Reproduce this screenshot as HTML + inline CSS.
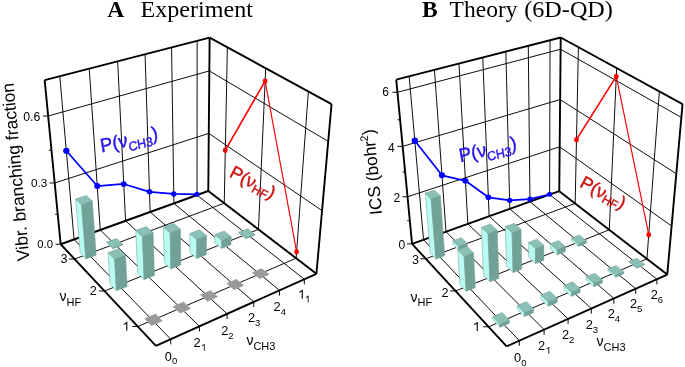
<!DOCTYPE html><html><head><meta charset="utf-8"><style>
html,body{margin:0;padding:0;background:#fff;width:685px;height:367px;overflow:hidden}
text{font-family:"Liberation Sans",sans-serif;fill:#000}
.ser{font-family:"Liberation Serif",serif}
</style></head><body>
<svg width="685" height="367" viewBox="0 0 685 367" style="position:absolute;left:0;top:0;will-change:transform">
<rect width="685" height="367" fill="#fff"/>
<line x1="74.07" y1="239.41" x2="59.80" y2="76.29" stroke="#000" stroke-width="0.95"/>
<line x1="100.24" y1="229.97" x2="89.24" y2="68.70" stroke="#000" stroke-width="0.95"/>
<line x1="125.58" y1="220.83" x2="117.65" y2="61.38" stroke="#000" stroke-width="0.95"/>
<line x1="150.13" y1="211.98" x2="145.07" y2="54.31" stroke="#000" stroke-width="0.95"/>
<line x1="173.93" y1="203.40" x2="171.55" y2="47.48" stroke="#000" stroke-width="0.95"/>
<line x1="197.00" y1="195.08" x2="197.15" y2="40.88" stroke="#000" stroke-width="0.95"/>
<line x1="54.68" y1="182.98" x2="208.78" y2="133.36" stroke="#000" stroke-width="0.95"/>
<line x1="48.16" y1="116.04" x2="209.33" y2="70.90" stroke="#000" stroke-width="0.95"/>
<line x1="296.13" y1="258.24" x2="308.36" y2="91.48" stroke="#000" stroke-width="0.95"/>
<line x1="258.47" y1="229.42" x2="265.71" y2="68.23" stroke="#000" stroke-width="0.95"/>
<line x1="224.24" y1="203.23" x2="227.37" y2="47.34" stroke="#000" stroke-width="0.95"/>
<line x1="322.04" y1="210.64" x2="208.78" y2="133.36" stroke="#000" stroke-width="0.95"/>
<line x1="328.22" y1="141.36" x2="209.33" y2="70.90" stroke="#000" stroke-width="0.95"/>
<line x1="170.70" y1="339.17" x2="74.07" y2="239.41" stroke="#000" stroke-width="0.95"/>
<line x1="199.44" y1="326.27" x2="100.24" y2="229.97" stroke="#000" stroke-width="0.95"/>
<line x1="227.12" y1="313.85" x2="125.58" y2="220.83" stroke="#000" stroke-width="0.95"/>
<line x1="253.79" y1="301.87" x2="150.13" y2="211.98" stroke="#000" stroke-width="0.95"/>
<line x1="279.51" y1="290.33" x2="173.93" y2="203.40" stroke="#000" stroke-width="0.95"/>
<line x1="304.33" y1="279.19" x2="197.00" y2="195.08" stroke="#000" stroke-width="0.95"/>
<line x1="137.82" y1="326.52" x2="296.13" y2="258.24" stroke="#000" stroke-width="0.95"/>
<line x1="104.50" y1="291.00" x2="258.47" y2="229.42" stroke="#000" stroke-width="0.95"/>
<line x1="74.54" y1="259.05" x2="224.24" y2="203.23" stroke="#000" stroke-width="0.95"/>
<line x1="60.66" y1="244.25" x2="44.66" y2="80.19" stroke="#000" stroke-width="1.9"/>
<line x1="44.66" y1="80.19" x2="209.63" y2="37.67" stroke="#000" stroke-width="1.9"/>
<line x1="208.28" y1="191.01" x2="209.63" y2="37.67" stroke="#000" stroke-width="1.9"/>
<line x1="209.63" y1="37.67" x2="331.54" y2="104.11" stroke="#000" stroke-width="1.9"/>
<line x1="331.54" y1="104.11" x2="316.42" y2="273.76" stroke="#000" stroke-width="1.9"/>
<line x1="60.66" y1="244.25" x2="208.28" y2="191.01" stroke="#000" stroke-width="1.9"/>
<line x1="208.28" y1="191.01" x2="316.42" y2="273.76" stroke="#000" stroke-width="1.9"/>
<line x1="155.91" y1="345.81" x2="316.42" y2="273.76" stroke="#000" stroke-width="1.9"/>
<line x1="155.91" y1="345.81" x2="60.66" y2="244.25" stroke="#000" stroke-width="1.9"/>
<line x1="55.46" y1="244.25" x2="60.66" y2="244.25" stroke="#000" stroke-width="0.95"/>
<line x1="49.48" y1="182.98" x2="54.68" y2="182.98" stroke="#000" stroke-width="0.95"/>
<line x1="42.96" y1="116.04" x2="48.16" y2="116.04" stroke="#000" stroke-width="0.95"/>
<line x1="55.13" y1="214.28" x2="57.73" y2="214.28" stroke="#000" stroke-width="0.95"/>
<line x1="48.89" y1="150.27" x2="51.49" y2="150.27" stroke="#000" stroke-width="0.95"/>
<line x1="132.32" y1="326.52" x2="137.82" y2="326.52" stroke="#000" stroke-width="0.95"/>
<line x1="99.00" y1="291.00" x2="104.50" y2="291.00" stroke="#000" stroke-width="0.95"/>
<line x1="69.04" y1="259.05" x2="74.54" y2="259.05" stroke="#000" stroke-width="0.95"/>
<line x1="170.70" y1="339.17" x2="170.70" y2="344.37" stroke="#000" stroke-width="0.95"/>
<line x1="199.44" y1="326.27" x2="199.44" y2="331.47" stroke="#000" stroke-width="0.95"/>
<line x1="227.12" y1="313.85" x2="227.12" y2="319.05" stroke="#000" stroke-width="0.95"/>
<line x1="253.79" y1="301.87" x2="253.79" y2="307.07" stroke="#000" stroke-width="0.95"/>
<line x1="279.51" y1="290.33" x2="279.51" y2="295.53" stroke="#000" stroke-width="0.95"/>
<line x1="304.33" y1="279.19" x2="304.33" y2="284.39" stroke="#000" stroke-width="0.95"/>
<polyline points="66.31,150.79 97.24,186.02 123.75,183.99 149.49,191.83 173.78,193.97 197.00,194.34" fill="none" stroke="#0000ff" stroke-width="1.75" stroke-linejoin="round"/>
<ellipse cx="66.31" cy="150.79" rx="3.2" ry="3.1" fill="#0000ff"/>
<ellipse cx="97.24" cy="186.02" rx="3.08" ry="2.98" fill="#0000ff"/>
<ellipse cx="123.75" cy="183.99" rx="2.96" ry="2.8600000000000003" fill="#0000ff"/>
<ellipse cx="149.49" cy="191.83" rx="2.8400000000000003" ry="2.74" fill="#0000ff"/>
<ellipse cx="173.78" cy="193.97" rx="2.72" ry="2.62" fill="#0000ff"/>
<ellipse cx="197.00" cy="194.34" rx="2.6" ry="2.5" fill="#0000ff"/>
<line x1="225.31" y1="150.18" x2="265.13" y2="81.07" stroke="#ff0000" stroke-width="1.6"/>
<line x1="265.13" y1="81.07" x2="296.61" y2="251.67" stroke="#ff0000" stroke-width="1.15"/>
<ellipse cx="225.31" cy="150.18" rx="2.3" ry="2.7" fill="#ff0000"/>
<ellipse cx="265.13" cy="81.07" rx="2.3" ry="2.7" fill="#ff0000"/>
<ellipse cx="296.61" cy="251.67" rx="2.3" ry="2.7" fill="#ff0000"/>
<polygon points="245.86,238.71 238.76,233.09 238.79,232.32 245.89,237.93" fill="#b8fcf2" stroke="#6f9d95" stroke-width="0.5" stroke-linejoin="round"/>
<polygon points="245.86,238.71 254.83,235.09 254.87,234.32 245.89,237.93" fill="#72a198" stroke="#6f9d95" stroke-width="0.5" stroke-linejoin="round"/>
<polygon points="245.89,237.93 254.87,234.32 247.72,228.78 238.79,232.32" fill="#8ac0b6" stroke="#6f9d95" stroke-width="0.5" stroke-linejoin="round"/>
<polygon points="221.70,248.44 214.73,242.64 214.84,234.59 221.86,240.34" fill="#b8fcf2" stroke="#6f9d95" stroke-width="0.5" stroke-linejoin="round"/>
<polygon points="221.70,248.44 230.98,244.70 231.18,236.63 221.86,240.34" fill="#72a198" stroke="#6f9d95" stroke-width="0.5" stroke-linejoin="round"/>
<polygon points="221.86,240.34 231.18,236.63 224.12,230.95 214.84,234.59" fill="#8ac0b6" stroke="#6f9d95" stroke-width="0.5" stroke-linejoin="round"/>
<polygon points="196.73,258.50 189.88,252.50 189.81,233.51 196.75,239.40" fill="#b8fcf2" stroke="#6f9d95" stroke-width="0.5" stroke-linejoin="round"/>
<polygon points="196.73,258.50 206.32,254.64 206.47,235.61 196.75,239.40" fill="#72a198" stroke="#6f9d95" stroke-width="0.5" stroke-linejoin="round"/>
<polygon points="196.75,239.40 206.47,235.61 199.47,229.80 189.81,233.51" fill="#8ac0b6" stroke="#6f9d95" stroke-width="0.5" stroke-linejoin="round"/>
<polygon points="259.58,278.65 269.07,274.53 261.69,268.52 252.24,272.56" fill="#999999" stroke="#a4a4a4" stroke-width="0.6" stroke-linejoin="round"/>
<polygon points="112.74,248.83 106.82,243.02 106.76,242.05 112.68,247.85" fill="#b8fcf2" stroke="#6f9d95" stroke-width="0.5" stroke-linejoin="round"/>
<polygon points="112.74,248.83 122.70,245.09 122.65,244.11 112.68,247.85" fill="#72a198" stroke="#6f9d95" stroke-width="0.5" stroke-linejoin="round"/>
<polygon points="112.68,247.85 122.65,244.11 116.67,238.38 106.76,242.05" fill="#8ac0b6" stroke="#6f9d95" stroke-width="0.5" stroke-linejoin="round"/>
<polygon points="170.90,268.91 164.19,262.70 163.37,226.96 170.24,232.96" fill="#b8fcf2" stroke="#6f9d95" stroke-width="0.5" stroke-linejoin="round"/>
<polygon points="170.90,268.91 180.82,264.91 180.43,229.09 170.24,232.96" fill="#72a198" stroke="#6f9d95" stroke-width="0.5" stroke-linejoin="round"/>
<polygon points="170.24,232.96 180.43,229.09 173.50,223.18 163.37,226.96" fill="#8ac0b6" stroke="#6f9d95" stroke-width="0.5" stroke-linejoin="round"/>
<polygon points="233.98,289.77 243.82,285.50 236.56,279.28 226.77,283.47" fill="#999999" stroke="#a4a4a4" stroke-width="0.6" stroke-linejoin="round"/>
<polygon points="85.90,258.90 80.15,252.90 75.63,199.00 81.56,204.68" fill="#b8fcf2" stroke="#6f9d95" stroke-width="0.5" stroke-linejoin="round"/>
<polygon points="85.90,258.90 96.20,255.04 92.30,201.02 81.56,204.68" fill="#72a198" stroke="#6f9d95" stroke-width="0.5" stroke-linejoin="round"/>
<polygon points="81.56,204.68 92.30,201.02 86.30,195.42 75.63,199.00" fill="#8ac0b6" stroke="#6f9d95" stroke-width="0.5" stroke-linejoin="round"/>
<polygon points="144.15,279.68 137.61,273.26 135.78,230.35 142.51,236.52" fill="#b8fcf2" stroke="#6f9d95" stroke-width="0.5" stroke-linejoin="round"/>
<polygon points="144.15,279.68 154.43,275.54 153.12,232.55 142.51,236.52" fill="#72a198" stroke="#6f9d95" stroke-width="0.5" stroke-linejoin="round"/>
<polygon points="142.51,236.52 153.12,232.55 146.32,226.46 135.78,230.35" fill="#8ac0b6" stroke="#6f9d95" stroke-width="0.5" stroke-linejoin="round"/>
<polygon points="207.46,301.30 217.65,296.87 210.53,290.42 200.39,294.76" fill="#999999" stroke="#a4a4a4" stroke-width="0.6" stroke-linejoin="round"/>
<polygon points="116.46,290.84 110.09,284.18 108.09,252.63 114.58,259.10" fill="#b8fcf2" stroke="#6f9d95" stroke-width="0.5" stroke-linejoin="round"/>
<polygon points="116.46,290.84 127.10,286.55 125.49,254.93 114.58,259.10" fill="#72a198" stroke="#6f9d95" stroke-width="0.5" stroke-linejoin="round"/>
<polygon points="114.58,259.10 125.49,254.93 118.92,248.55 108.09,252.63" fill="#8ac0b6" stroke="#6f9d95" stroke-width="0.5" stroke-linejoin="round"/>
<polygon points="179.96,313.25 190.53,308.65 183.55,301.97 173.04,306.47" fill="#999999" stroke="#a4a4a4" stroke-width="0.6" stroke-linejoin="round"/>
<polygon points="151.42,325.65 162.39,320.88 155.57,313.95 144.67,318.61" fill="#999999" stroke="#a4a4a4" stroke-width="0.6" stroke-linejoin="round"/>
<line x1="423.53" y1="239.77" x2="409.17" y2="76.24" stroke="#000" stroke-width="0.95"/>
<line x1="445.99" y1="231.72" x2="434.45" y2="69.77" stroke="#000" stroke-width="0.95"/>
<line x1="467.84" y1="223.89" x2="458.97" y2="63.49" stroke="#000" stroke-width="0.95"/>
<line x1="489.11" y1="216.27" x2="482.76" y2="57.41" stroke="#000" stroke-width="0.95"/>
<line x1="509.82" y1="208.85" x2="505.85" y2="51.50" stroke="#000" stroke-width="0.95"/>
<line x1="529.98" y1="201.62" x2="528.28" y2="45.76" stroke="#000" stroke-width="0.95"/>
<line x1="549.63" y1="194.58" x2="550.06" y2="40.18" stroke="#000" stroke-width="0.95"/>
<line x1="407.52" y1="196.78" x2="559.68" y2="146.75" stroke="#000" stroke-width="0.95"/>
<line x1="402.66" y1="146.36" x2="560.13" y2="99.54" stroke="#000" stroke-width="0.95"/>
<line x1="397.45" y1="92.27" x2="560.61" y2="49.23" stroke="#000" stroke-width="0.95"/>
<line x1="646.95" y1="258.92" x2="659.33" y2="91.43" stroke="#000" stroke-width="0.95"/>
<line x1="609.31" y1="229.82" x2="616.67" y2="68.08" stroke="#000" stroke-width="0.95"/>
<line x1="575.17" y1="203.43" x2="578.41" y2="47.14" stroke="#000" stroke-width="0.95"/>
<line x1="671.62" y1="225.98" x2="559.68" y2="146.75" stroke="#000" stroke-width="0.95"/>
<line x1="676.31" y1="173.72" x2="560.13" y2="99.54" stroke="#000" stroke-width="0.95"/>
<line x1="681.36" y1="117.41" x2="560.61" y2="49.23" stroke="#000" stroke-width="0.95"/>
<line x1="519.32" y1="340.65" x2="423.53" y2="239.77" stroke="#000" stroke-width="0.95"/>
<line x1="544.10" y1="329.59" x2="445.99" y2="231.72" stroke="#000" stroke-width="0.95"/>
<line x1="568.09" y1="318.88" x2="467.84" y2="223.89" stroke="#000" stroke-width="0.95"/>
<line x1="591.33" y1="308.51" x2="489.11" y2="216.27" stroke="#000" stroke-width="0.95"/>
<line x1="613.86" y1="298.45" x2="509.82" y2="208.85" stroke="#000" stroke-width="0.95"/>
<line x1="635.70" y1="288.70" x2="529.98" y2="201.62" stroke="#000" stroke-width="0.95"/>
<line x1="656.90" y1="279.24" x2="549.63" y2="194.58" stroke="#000" stroke-width="0.95"/>
<line x1="488.62" y1="326.81" x2="646.95" y2="258.92" stroke="#000" stroke-width="0.95"/>
<line x1="455.52" y1="290.95" x2="609.31" y2="229.82" stroke="#000" stroke-width="0.95"/>
<line x1="425.80" y1="258.76" x2="575.17" y2="203.43" stroke="#000" stroke-width="0.95"/>
<line x1="412.06" y1="243.88" x2="396.23" y2="79.55" stroke="#000" stroke-width="1.9"/>
<line x1="396.23" y1="79.55" x2="560.72" y2="37.46" stroke="#000" stroke-width="1.9"/>
<line x1="559.26" y1="191.13" x2="560.72" y2="37.46" stroke="#000" stroke-width="1.9"/>
<line x1="560.72" y1="37.46" x2="682.55" y2="104.14" stroke="#000" stroke-width="1.9"/>
<line x1="682.55" y1="104.14" x2="667.26" y2="274.62" stroke="#000" stroke-width="1.9"/>
<line x1="412.06" y1="243.88" x2="559.26" y2="191.13" stroke="#000" stroke-width="1.9"/>
<line x1="559.26" y1="191.13" x2="667.26" y2="274.62" stroke="#000" stroke-width="1.9"/>
<line x1="506.63" y1="346.31" x2="667.26" y2="274.62" stroke="#000" stroke-width="1.9"/>
<line x1="506.63" y1="346.31" x2="412.06" y2="243.88" stroke="#000" stroke-width="1.9"/>
<line x1="406.86" y1="243.88" x2="412.06" y2="243.88" stroke="#000" stroke-width="0.95"/>
<line x1="402.32" y1="196.78" x2="407.52" y2="196.78" stroke="#000" stroke-width="0.95"/>
<line x1="397.46" y1="146.36" x2="402.66" y2="146.36" stroke="#000" stroke-width="0.95"/>
<line x1="392.25" y1="92.27" x2="397.45" y2="92.27" stroke="#000" stroke-width="0.95"/>
<line x1="407.23" y1="220.72" x2="409.83" y2="220.72" stroke="#000" stroke-width="0.95"/>
<line x1="402.54" y1="172.00" x2="405.14" y2="172.00" stroke="#000" stroke-width="0.95"/>
<line x1="397.51" y1="119.80" x2="400.11" y2="119.80" stroke="#000" stroke-width="0.95"/>
<line x1="483.12" y1="326.81" x2="488.62" y2="326.81" stroke="#000" stroke-width="0.95"/>
<line x1="450.02" y1="290.95" x2="455.52" y2="290.95" stroke="#000" stroke-width="0.95"/>
<line x1="420.30" y1="258.76" x2="425.80" y2="258.76" stroke="#000" stroke-width="0.95"/>
<line x1="519.32" y1="340.65" x2="519.32" y2="345.85" stroke="#000" stroke-width="0.95"/>
<line x1="544.10" y1="329.59" x2="544.10" y2="334.79" stroke="#000" stroke-width="0.95"/>
<line x1="568.09" y1="318.88" x2="568.09" y2="324.08" stroke="#000" stroke-width="0.95"/>
<line x1="591.33" y1="308.51" x2="591.33" y2="313.71" stroke="#000" stroke-width="0.95"/>
<line x1="613.86" y1="298.45" x2="613.86" y2="303.65" stroke="#000" stroke-width="0.95"/>
<line x1="635.70" y1="288.70" x2="635.70" y2="293.90" stroke="#000" stroke-width="0.95"/>
<line x1="656.90" y1="279.24" x2="656.90" y2="284.44" stroke="#000" stroke-width="0.95"/>
<polyline points="414.83,140.72 441.97,175.30 465.46,180.80 488.35,197.33 509.60,200.34 529.96,199.16 549.63,194.37" fill="none" stroke="#0000ff" stroke-width="1.75" stroke-linejoin="round"/>
<ellipse cx="414.83" cy="140.72" rx="3.2" ry="3.1" fill="#0000ff"/>
<ellipse cx="441.97" cy="175.30" rx="3.1" ry="3.0" fill="#0000ff"/>
<ellipse cx="465.46" cy="180.80" rx="3.0" ry="2.9" fill="#0000ff"/>
<ellipse cx="488.35" cy="197.33" rx="2.9000000000000004" ry="2.8000000000000003" fill="#0000ff"/>
<ellipse cx="509.60" cy="200.34" rx="2.8000000000000003" ry="2.7" fill="#0000ff"/>
<ellipse cx="529.96" cy="199.16" rx="2.7" ry="2.6" fill="#0000ff"/>
<ellipse cx="549.63" cy="194.37" rx="2.6" ry="2.5" fill="#0000ff"/>
<line x1="576.49" y1="139.64" x2="616.29" y2="76.42" stroke="#ff0000" stroke-width="1.6"/>
<line x1="616.29" y1="76.42" x2="648.75" y2="234.64" stroke="#ff0000" stroke-width="1.15"/>
<ellipse cx="576.49" cy="139.64" rx="2.3" ry="2.7" fill="#ff0000"/>
<ellipse cx="616.29" cy="76.42" rx="2.3" ry="2.7" fill="#ff0000"/>
<ellipse cx="648.75" cy="234.64" rx="2.3" ry="2.7" fill="#ff0000"/>
<polygon points="578.46,246.39 571.47,240.59 571.52,238.20 578.52,243.99" fill="#b8fcf2" stroke="#6f9d95" stroke-width="0.5" stroke-linejoin="round"/>
<polygon points="578.46,246.39 586.35,243.24 586.42,240.84 578.52,243.99" fill="#72a198" stroke="#6f9d95" stroke-width="0.5" stroke-linejoin="round"/>
<polygon points="578.52,243.99 586.42,240.84 579.38,235.11 571.52,238.20" fill="#8ac0b6" stroke="#6f9d95" stroke-width="0.5" stroke-linejoin="round"/>
<polygon points="636.72,268.13 628.88,261.89 628.90,261.54 636.75,267.78" fill="#b8fcf2" stroke="#6f9d95" stroke-width="0.5" stroke-linejoin="round"/>
<polygon points="636.72,268.13 644.58,264.74 644.61,264.39 636.75,267.78" fill="#72a198" stroke="#6f9d95" stroke-width="0.5" stroke-linejoin="round"/>
<polygon points="636.75,267.78 644.61,264.39 636.72,258.22 628.90,261.54" fill="#8ac0b6" stroke="#6f9d95" stroke-width="0.5" stroke-linejoin="round"/>
<polygon points="557.30,254.87 550.42,248.90 550.44,243.72 557.34,249.67" fill="#b8fcf2" stroke="#6f9d95" stroke-width="0.5" stroke-linejoin="round"/>
<polygon points="557.30,254.87 565.41,251.62 565.48,246.43 557.34,249.67" fill="#72a198" stroke="#6f9d95" stroke-width="0.5" stroke-linejoin="round"/>
<polygon points="557.34,249.67 565.48,246.43 558.54,240.56 550.44,243.72" fill="#8ac0b6" stroke="#6f9d95" stroke-width="0.5" stroke-linejoin="round"/>
<polygon points="615.62,277.26 607.88,270.82 607.96,268.95 615.72,275.37" fill="#b8fcf2" stroke="#6f9d95" stroke-width="0.5" stroke-linejoin="round"/>
<polygon points="615.62,277.26 623.71,273.76 623.82,271.88 615.72,275.37" fill="#72a198" stroke="#6f9d95" stroke-width="0.5" stroke-linejoin="round"/>
<polygon points="615.72,275.37 623.82,271.88 616.03,265.53 607.96,268.95" fill="#8ac0b6" stroke="#6f9d95" stroke-width="0.5" stroke-linejoin="round"/>
<polygon points="535.51,263.59 528.76,257.44 528.58,242.39 535.40,248.44" fill="#b8fcf2" stroke="#6f9d95" stroke-width="0.5" stroke-linejoin="round"/>
<polygon points="535.51,263.59 543.86,260.25 543.84,245.15 535.40,248.44" fill="#72a198" stroke="#6f9d95" stroke-width="0.5" stroke-linejoin="round"/>
<polygon points="535.40,248.44 543.84,245.15 536.97,239.16 528.58,242.39" fill="#8ac0b6" stroke="#6f9d95" stroke-width="0.5" stroke-linejoin="round"/>
<polygon points="593.88,286.65 586.25,280.02 586.35,276.72 594.00,283.32" fill="#b8fcf2" stroke="#6f9d95" stroke-width="0.5" stroke-linejoin="round"/>
<polygon points="593.88,286.65 602.22,283.05 602.36,279.73 594.00,283.32" fill="#72a198" stroke="#6f9d95" stroke-width="0.5" stroke-linejoin="round"/>
<polygon points="594.00,283.32 602.36,279.73 594.66,273.20 586.35,276.72" fill="#8ac0b6" stroke="#6f9d95" stroke-width="0.5" stroke-linejoin="round"/>
<polygon points="458.94,250.53 453.10,244.65 452.84,240.76 458.69,246.62" fill="#b8fcf2" stroke="#6f9d95" stroke-width="0.5" stroke-linejoin="round"/>
<polygon points="458.94,250.53 467.52,247.33 467.30,243.43 458.69,246.62" fill="#72a198" stroke="#6f9d95" stroke-width="0.5" stroke-linejoin="round"/>
<polygon points="458.69,246.62 467.30,243.43 461.39,237.64 452.84,240.76" fill="#8ac0b6" stroke="#6f9d95" stroke-width="0.5" stroke-linejoin="round"/>
<polygon points="513.09,272.57 506.47,266.24 505.33,226.59 512.13,232.68" fill="#b8fcf2" stroke="#6f9d95" stroke-width="0.5" stroke-linejoin="round"/>
<polygon points="513.09,272.57 521.69,269.13 520.99,229.36 512.13,232.68" fill="#72a198" stroke="#6f9d95" stroke-width="0.5" stroke-linejoin="round"/>
<polygon points="512.13,232.68 520.99,229.36 514.13,223.35 505.33,226.59" fill="#8ac0b6" stroke="#6f9d95" stroke-width="0.5" stroke-linejoin="round"/>
<polygon points="571.47,296.33 563.97,289.50 564.02,285.45 571.55,292.26" fill="#b8fcf2" stroke="#6f9d95" stroke-width="0.5" stroke-linejoin="round"/>
<polygon points="571.47,296.33 580.06,292.62 580.17,288.56 571.55,292.26" fill="#72a198" stroke="#6f9d95" stroke-width="0.5" stroke-linejoin="round"/>
<polygon points="571.55,292.26 580.17,288.56 572.60,281.83 564.02,285.45" fill="#8ac0b6" stroke="#6f9d95" stroke-width="0.5" stroke-linejoin="round"/>
<polygon points="435.91,259.12 430.22,253.07 425.20,193.10 431.08,198.78" fill="#b8fcf2" stroke="#6f9d95" stroke-width="0.5" stroke-linejoin="round"/>
<polygon points="435.91,259.12 444.74,255.83 440.33,195.69 431.08,198.78" fill="#72a198" stroke="#6f9d95" stroke-width="0.5" stroke-linejoin="round"/>
<polygon points="431.08,198.78 440.33,195.69 434.38,190.07 425.20,193.10" fill="#8ac0b6" stroke="#6f9d95" stroke-width="0.5" stroke-linejoin="round"/>
<polygon points="489.99,281.82 483.52,275.30 481.32,227.31 488.00,233.53" fill="#b8fcf2" stroke="#6f9d95" stroke-width="0.5" stroke-linejoin="round"/>
<polygon points="489.99,281.82 498.85,278.27 497.18,230.14 488.00,233.53" fill="#72a198" stroke="#6f9d95" stroke-width="0.5" stroke-linejoin="round"/>
<polygon points="488.00,233.53 497.18,230.14 490.44,223.99 481.32,227.31" fill="#8ac0b6" stroke="#6f9d95" stroke-width="0.5" stroke-linejoin="round"/>
<polygon points="548.36,306.32 541.00,299.27 540.98,294.95 548.37,301.97" fill="#b8fcf2" stroke="#6f9d95" stroke-width="0.5" stroke-linejoin="round"/>
<polygon points="548.36,306.32 557.23,302.49 557.27,298.15 548.37,301.97" fill="#72a198" stroke="#6f9d95" stroke-width="0.5" stroke-linejoin="round"/>
<polygon points="548.37,301.97 557.27,298.15 549.82,291.21 540.98,294.95" fill="#8ac0b6" stroke="#6f9d95" stroke-width="0.5" stroke-linejoin="round"/>
<polygon points="466.19,291.35 459.88,284.63 457.66,249.92 464.12,256.44" fill="#b8fcf2" stroke="#6f9d95" stroke-width="0.5" stroke-linejoin="round"/>
<polygon points="466.19,291.35 475.32,287.69 473.50,252.89 464.12,256.44" fill="#72a198" stroke="#6f9d95" stroke-width="0.5" stroke-linejoin="round"/>
<polygon points="464.12,256.44 473.50,252.89 466.98,246.46 457.66,249.92" fill="#8ac0b6" stroke="#6f9d95" stroke-width="0.5" stroke-linejoin="round"/>
<polygon points="524.53,316.62 517.31,309.35 517.23,305.48 524.46,312.72" fill="#b8fcf2" stroke="#6f9d95" stroke-width="0.5" stroke-linejoin="round"/>
<polygon points="524.53,316.62 533.67,312.67 533.64,308.78 524.46,312.72" fill="#72a198" stroke="#6f9d95" stroke-width="0.5" stroke-linejoin="round"/>
<polygon points="524.46,312.72 533.64,308.78 526.34,301.62 517.23,305.48" fill="#8ac0b6" stroke="#6f9d95" stroke-width="0.5" stroke-linejoin="round"/>
<polygon points="499.92,327.25 492.87,319.75 492.75,316.57 499.81,324.06" fill="#b8fcf2" stroke="#6f9d95" stroke-width="0.5" stroke-linejoin="round"/>
<polygon points="499.92,327.25 509.37,323.17 509.28,319.99 499.81,324.06" fill="#72a198" stroke="#6f9d95" stroke-width="0.5" stroke-linejoin="round"/>
<polygon points="499.81,324.06 509.28,319.99 502.15,312.60 492.75,316.57" fill="#8ac0b6" stroke="#6f9d95" stroke-width="0.5" stroke-linejoin="round"/>
<text x="107.2" y="17.4" font-size="23.5" class="ser" font-weight="bold">A</text>
<text transform="translate(140.5,17.4) scale(1.026,1)" font-size="23.5" class="ser">Experiment</text>
<text transform="translate(29.4,260.5) rotate(-95.1)" font-size="17.5">Vibr. branching fraction</text>
<text x="53.0" y="248.0" font-size="11.3" text-anchor="end">0.0</text>
<text x="47.3" y="187.0" font-size="11.7" text-anchor="end">0.3</text>
<text x="40.3" y="120.8" font-size="12.3" text-anchor="end">0.6</text>
<text x="60.39" y="263.20" font-size="12.6" >3</text>
<text x="89.79" y="295.30" font-size="12.6" >2</text>
<path d="M0.335,0 L0.423,0 L0.423,-0.716 L0.366,-0.716 Q0.31,-0.625 0.14,-0.548 L0.14,-0.465 Q0.265,-0.515 0.335,-0.578 Z" transform="translate(121.99,330.80) scale(12.6)" />
<text x="59.60" y="301.20" font-size="14" text-anchor="start">ν<tspan font-size="11" dy="4.4">HF</tspan></text>
<text x="164.80" y="360.77" font-size="12.8" >0</text>
<text x="171.92" y="364.37" font-size="9.5" >0</text>
<text x="193.54" y="347.17" font-size="12.8" >2</text>
<path d="M0.335,0 L0.423,0 L0.423,-0.716 L0.366,-0.716 Q0.31,-0.625 0.14,-0.548 L0.14,-0.465 Q0.265,-0.515 0.335,-0.578 Z" transform="translate(200.66,350.77) scale(9.5)" />
<text x="221.22" y="335.45" font-size="12.8" >2</text>
<text x="228.33" y="339.05" font-size="9.5" >2</text>
<text x="247.89" y="321.97" font-size="12.8" >2</text>
<text x="255.01" y="325.57" font-size="9.5" >3</text>
<text x="273.61" y="310.93" font-size="12.8" >2</text>
<text x="280.73" y="314.53" font-size="9.5" >4</text>
<path d="M0.335,0 L0.423,0 L0.423,-0.716 L0.366,-0.716 Q0.31,-0.625 0.14,-0.548 L0.14,-0.465 Q0.265,-0.515 0.335,-0.578 Z" transform="translate(297.43,298.79) scale(12.8)" />
<path d="M0.335,0 L0.423,0 L0.423,-0.716 L0.366,-0.716 Q0.31,-0.625 0.14,-0.548 L0.14,-0.465 Q0.265,-0.515 0.335,-0.578 Z" transform="translate(304.55,302.39) scale(9.5)" />
<text x="246.40" y="345.20" font-size="14" text-anchor="start">ν<tspan font-size="11" dy="4.8">CH3</tspan></text>
<text transform="matrix(0.945,-0.218,0.174,0.985,101.6,152.4)" font-size="19" style="fill:#2a14f0;stroke:#2a14f0;stroke-width:0.45">P(ν<tspan font-size="12.8" dy="5">CH3</tspan><tspan dy="-5">)</tspan></text>
<text transform="translate(228.5,176.0) rotate(28.5)" font-size="18" style="fill:#cc1414;stroke:#cc1414;stroke-width:0.45">P(ν<tspan font-size="12" dy="3">HF</tspan><tspan dy="-3">)</tspan></text>
<text x="422.0" y="17.2" font-size="23.5" class="ser" font-weight="bold">B</text>
<text x="449.6" y="17.2" font-size="23.5" class="ser">Theory</text>
<text transform="translate(524.2,17.2) scale(1.03,1)" font-size="23.5" class="ser">(6D-QD)</text>
<text transform="translate(382.1,214.2) rotate(-95.4)" font-size="17.3">ICS (bohr<tspan font-size="11" dy="-7">2</tspan><tspan dy="7">)</tspan></text>
<text x="405.1" y="248.5" font-size="12" text-anchor="end">0</text>
<text x="400.1" y="202.0" font-size="12" text-anchor="end">2</text>
<text x="394.6" y="151.7" font-size="12" text-anchor="end">4</text>
<text x="389.0" y="96.3" font-size="12" text-anchor="end">6</text>
<text x="411.89" y="263.50" font-size="12.6" >3</text>
<text x="441.39" y="296.60" font-size="12.6" >2</text>
<path d="M0.335,0 L0.423,0 L0.423,-0.716 L0.366,-0.716 Q0.31,-0.625 0.14,-0.548 L0.14,-0.465 Q0.265,-0.515 0.335,-0.578 Z" transform="translate(472.49,331.00) scale(12.6)" />
<text x="410.50" y="301.50" font-size="14" text-anchor="start">ν<tspan font-size="11" dy="4.6">HF</tspan></text>
<text x="514.12" y="362.45" font-size="12.8" >0</text>
<text x="521.24" y="366.05" font-size="9.5" >0</text>
<text x="538.10" y="350.09" font-size="12.8" >2</text>
<path d="M0.335,0 L0.423,0 L0.423,-0.716 L0.366,-0.716 Q0.31,-0.625 0.14,-0.548 L0.14,-0.465 Q0.265,-0.515 0.335,-0.578 Z" transform="translate(545.22,353.69) scale(9.5)" />
<text x="561.89" y="339.18" font-size="12.8" >2</text>
<text x="569.01" y="342.78" font-size="9.5" >2</text>
<text x="585.63" y="329.31" font-size="12.8" >2</text>
<text x="592.75" y="332.91" font-size="9.5" >3</text>
<text x="607.66" y="318.45" font-size="12.8" >2</text>
<text x="614.78" y="322.05" font-size="9.5" >4</text>
<text x="630.00" y="308.20" font-size="12.8" >2</text>
<text x="637.12" y="311.80" font-size="9.5" >5</text>
<text x="650.70" y="299.14" font-size="12.8" >2</text>
<text x="657.81" y="302.74" font-size="9.5" >6</text>
<text x="596.50" y="346.20" font-size="14" text-anchor="start">ν<tspan font-size="11" dy="4.6">CH3</tspan></text>
<text transform="matrix(0.945,-0.218,0.174,0.985,460.3,162.2)" font-size="19" style="fill:#2a14f0;stroke:#2a14f0;stroke-width:0.45">P(ν<tspan font-size="12.8" dy="5">CH3</tspan><tspan dy="-5">)</tspan></text>
<text transform="translate(578.7,186.3) rotate(28.5)" font-size="18" style="fill:#cc1414;stroke:#cc1414;stroke-width:0.45">P(ν<tspan font-size="12" dy="3">HF</tspan><tspan dy="-3">)</tspan></text>
</svg>
</body></html>
